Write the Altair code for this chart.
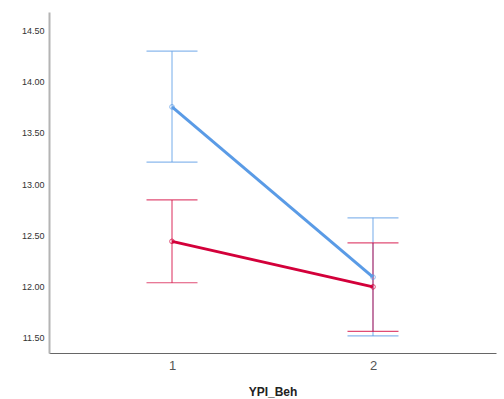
import altair as alt
import pandas as pd

groups = ["A", "A", "B", "B"]
ypi = [1, 2, 1, 2]
means = [13.755, 12.09, 12.44, 11.995]
upper = [14.30, 12.67, 12.845, 12.425]
lower = [13.215, 11.515, 12.035, 11.56]

df = pd.DataFrame({"group": groups, "x": ypi, "mean": means, "upper": upper, "lower": lower})

color_scale = alt.Scale(domain=["A", "B"], range=["#5a9be6", "#d3003a"])
xs = alt.Scale(domain=[0.388, 2.612], nice=False, zero=False)
ys = alt.Scale(domain=[11.348, 14.683], nice=False, zero=False)

x_enc = alt.X("x:Q", scale=xs, title="YPI_Beh",
              axis=alt.Axis(values=[1, 2], format="d", grid=False, ticks=False,
                            domainColor="#666666", domainWidth=1,
                            labelFont="Arial", labelFontSize=13, labelColor="#555555",
                            labelPadding=6,
                            titleFont="Arial", titleFontSize=12, titleFontWeight="bold",
                            titleColor="#222222", titlePadding=14))
y_enc = alt.Y("mean:Q", scale=ys, title=None,
              axis=alt.Axis(values=[11.5, 12.0, 12.5, 13.0, 13.5, 14.0, 14.5], format=".2f",
                            grid=False, ticks=False, domainColor="#b4b4b4", domainWidth=2,
                            labelFont="Arial", labelFontSize=9, labelColor="#333333",
                            labelPadding=5))

base = alt.Chart(df)

bars = base.mark_rule(strokeWidth=1.2, opacity=0.7).encode(
    x=x_enc, y=alt.Y("lower:Q", scale=ys), y2="upper:Q",
    color=alt.Color("group:N", scale=color_scale, legend=None))

caps_u = base.mark_tick(orient="horizontal", size=51, thickness=1.2, opacity=0.7).encode(
    x="x:Q", y=alt.Y("upper:Q", scale=ys),
    color=alt.Color("group:N", scale=color_scale, legend=None))
caps_l = base.mark_tick(orient="horizontal", size=51, thickness=1.2, opacity=0.7).encode(
    x="x:Q", y=alt.Y("lower:Q", scale=ys),
    color=alt.Color("group:N", scale=color_scale, legend=None))

lines = base.mark_line(strokeWidth=3).encode(
    x=x_enc, y=y_enc, detail="group:N",
    color=alt.Color("group:N", scale=color_scale, legend=None))

pts = base.mark_point(size=22, filled=False, strokeWidth=1, opacity=0.7).encode(
    x="x:Q", y=alt.Y("mean:Q", scale=ys),
    color=alt.Color("group:N", scale=color_scale, legend=None))

chart = alt.layer(bars, caps_u, caps_l, lines, pts).properties(
    width=447, height=341,
    padding={"left": 49, "top": 12, "right": 8, "bottom": 46},
    autosize=alt.AutoSizeParams(type="none"),
    background="white",
).configure_view(stroke=None)

chart.save("out.html", embed_options={"renderer": "svg", "actions": False})
